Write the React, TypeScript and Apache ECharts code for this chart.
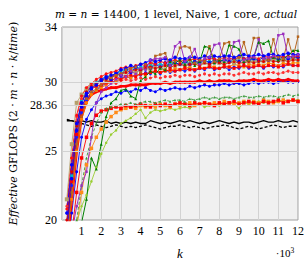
import React, { useEffect, useRef } from "react";
import * as echarts from "echarts";

const K = [0.25, 0.5, 0.75, 1, 1.25, 1.5, 1.75, 2, 2.25, 2.5, 2.75, 3, 3.25, 3.5, 3.75, 4, 4.25, 4.5, 4.75, 5, 5.25, 5.5, 5.75, 6, 6.25, 6.5, 6.75, 7, 7.25, 7.5, 7.75, 8, 8.25, 8.5, 8.75, 9, 9.25, 9.5, 9.75, 10, 10.25, 10.5, 10.75, 11, 11.25, 11.5, 11.75, 12];

const X_TICKS = [1, 2, 3, 4, 5, 6, 7, 8, 9, 10, 11, 12];
const Y_TICKS = [20, 25, 28.36, 30, 34];
const Y_GRID = [25, 28.36, 30];

const purple = [17.0, 19.0, 21.0, 22.5, 23.5, 26.0, 28.5, 29.3, 29.6, 29.9, 30.2, 30.5, 30.4, 30.8, 30.6, 31.0, 30.9, 31.6, 31.7, 31.7, 31.8, 31.2, 32.6, 32.9, 31.5, 31.8, 32.4, 31.3, 31.7, 31.8, 32.7, 32.8, 31.6, 31.7, 32.9, 33.0, 31.6, 31.7, 31.8, 33.1, 31.7, 31.8, 31.9, 33.4, 33.5, 31.8, 31.9, 32.0];
const brown = [18.0, 22.0, 25.5, 27.5, 28.8, 29.3, 29.5, 29.8, 30.0, 30.3, 30.5, 30.6, 30.9, 31.0, 31.1, 30.7, 31.3, 31.0, 31.9, 32.0, 32.1, 31.2, 31.5, 32.5, 32.6, 32.5, 31.4, 31.6, 31.5, 32.6, 31.5, 31.7, 32.8, 32.9, 31.6, 31.8, 32.9, 31.6, 33.2, 33.2, 31.7, 31.6, 33.1, 31.8, 31.7, 33.1, 31.8, 33.3];
const green = [14.0, 15.5, 17.5, 19.8, 21.5, 24.5, 23.7, 25.5, 27.5, 28.5, 28.8, 29.4, 29.5, 29.0, 28.8, 30.1, 30.4, 30.8, 30.6, 31.0, 30.9, 31.5, 31.4, 31.6, 31.3, 31.7, 31.2, 31.5, 32.6, 32.5, 31.4, 31.6, 31.5, 32.7, 32.6, 32.4, 31.5, 31.6, 31.8, 32.9, 32.8, 33.0, 31.8, 31.6, 31.7, 31.9, 32.3, 32.3];
const blue1 = [20.5, 24.0, 27.0, 28.5, 29.2, 29.6, 29.8, 30.1, 30.3, 30.5, 30.6, 30.9, 31.0, 31.2, 31.1, 31.3, 31.4, 31.6, 31.5, 31.6, 31.7, 31.6, 31.8, 31.7, 31.7, 31.8, 31.8, 31.7, 31.9, 31.8, 31.9, 31.8, 31.9, 31.9, 31.8, 31.9, 32.0, 31.9, 31.9, 32.0, 31.9, 32.0, 32.0, 31.9, 32.0, 32.1, 32.0, 32.0];
const blue2 = [19.5, 23.0, 26.5, 28.2, 29.0, 29.5, 29.9, 30.2, 30.4, 30.2, 30.7, 30.5, 30.9, 30.7, 31.1, 30.9, 31.2, 31.0, 31.3, 31.1, 31.4, 31.2, 31.4, 31.3, 31.5, 31.3, 31.5, 31.4, 31.6, 31.4, 31.6, 31.5, 31.6, 31.5, 31.7, 31.5, 31.7, 31.6, 31.7, 31.6, 31.8, 31.6, 31.8, 31.7, 31.8, 31.7, 31.8, 31.8];
const blue3 = [19.0, 22.5, 26.0, 27.8, 28.7, 29.2, 29.4, 29.7, 29.9, 30.1, 30.0, 30.3, 30.4, 30.3, 30.6, 30.5, 30.7, 30.6, 30.8, 30.6, 30.9, 30.7, 30.8, 30.9, 30.8, 31.0, 30.8, 31.0, 30.9, 31.1, 30.9, 31.0, 31.1, 30.9, 31.1, 31.0, 31.2, 31.0, 31.1, 31.2, 31.0, 31.2, 31.1, 31.2, 31.1, 31.3, 31.2, 31.2];
const blueLow = [17.0, 20.5, 23.5, 26.0, 27.3, 28.0, 28.5, 28.8, 29.0, 29.1, 29.3, 29.2, 29.4, 29.3, 29.5, 29.4, 29.6, 29.4, 29.3, 29.5, 29.4, 29.5, 29.6, 29.5, 29.5, 29.7, 29.6, 29.7, 29.8, 29.7, 29.8, 29.8, 29.9, 29.8, 29.9, 29.9, 29.8, 29.9, 30.0, 29.9, 30.0, 30.0, 29.9, 30.0, 30.1, 30.0, 30.0, 30.05];
const thickRed = [18.0, 21.5, 25.0, 27.5, 28.6, 29.1, 29.3, 29.4, 29.5, 29.6, 29.6, 29.7, 29.7, 29.8, 29.8, 29.8, 29.8, 29.9, 29.9, 29.9, 30.0, 29.9, 30.0, 30.0, 30.0, 30.0, 30.0, 30.1, 30.0, 30.1, 30.0, 30.1, 30.1, 30.1, 30.0, 30.1, 30.1, 30.1, 30.2, 30.1, 30.1, 30.2, 30.1, 30.2, 30.1, 30.2, 30.1, 30.1];
const red1 = [20.0, 23.5, 26.8, 28.5, 29.3, 29.7, 29.9, 30.1, 30.2, 30.4, 30.5, 30.6, 30.7, 30.8, 30.9, 30.9, 31.0, 31.1, 31.0, 31.1, 31.2, 31.1, 31.2, 31.3, 31.2, 31.3, 31.3, 31.2, 31.4, 31.3, 31.4, 31.4, 31.3, 31.4, 31.5, 31.4, 31.4, 31.5, 31.4, 31.5, 31.5, 31.6, 31.5, 31.5, 31.6, 31.5, 31.6, 31.6];
const red2 = [19.5, 22.8, 26.2, 28.0, 29.0, 29.5, 29.7, 29.8, 30.0, 30.1, 30.3, 30.2, 30.4, 30.5, 30.4, 30.6, 30.6, 30.7, 30.8, 30.7, 30.8, 30.9, 30.8, 30.9, 31.0, 30.9, 30.9, 31.0, 31.0, 31.1, 31.0, 31.0, 31.1, 31.1, 31.0, 31.1, 31.2, 31.1, 31.1, 31.2, 31.1, 31.2, 31.2, 31.1, 31.2, 31.3, 31.2, 31.2];
const red3 = [21.0, 24.5, 27.5, 28.8, 29.4, 29.6, 29.7, 29.8, 29.9, 30.0, 29.9, 30.1, 30.2, 30.1, 30.2, 30.3, 30.2, 30.3, 30.4, 30.3, 30.4, 30.4, 30.5, 30.4, 30.5, 30.5, 30.4, 30.5, 30.6, 30.5, 30.6, 30.5, 30.6, 30.6, 30.5, 30.6, 30.7, 30.6, 30.6, 30.7, 30.6, 30.7, 30.7, 30.6, 30.7, 30.8, 30.7, 30.7];
const red4 = [20.8, 24.5, 27.6, 29.0, 29.6, 29.9, 30.2, 30.4, 30.6, 30.7, 30.8, 31.0, 31.1, 31.0, 31.2, 31.3, 31.2, 31.4, 31.3, 31.5, 31.4, 31.5, 31.6, 31.5, 31.6, 31.6, 31.7, 31.6, 31.6, 31.7, 31.7, 31.6, 31.8, 31.7, 31.7, 31.8, 31.7, 31.8, 31.8, 31.7, 31.9, 31.8, 31.8, 31.9, 31.8, 31.9, 31.8, 31.9];
const orange1 = [18.5, 21.5, 25.0, 27.3, 28.5, 29.1, 29.4, 29.6, 29.8, 30.0, 30.1, 30.2, 30.4, 30.3, 30.5, 30.6, 30.5, 30.7, 30.8, 30.7, 30.9, 30.8, 31.0, 30.9, 31.0, 31.1, 30.9, 31.1, 31.0, 31.2, 31.1, 31.0, 31.2, 31.1, 31.3, 31.2, 31.1, 31.3, 31.2, 31.3, 31.2, 31.4, 31.3, 31.2, 31.4, 31.3, 31.4, 31.4];
const cyan = [19.8, 23.2, 26.8, 28.6, 29.4, 29.8, 30.0, 30.2, 30.4, 30.5, 30.6, 30.8, 30.9, 30.9, 31.0, 31.1, 31.1, 31.2, 31.2, 31.3, 31.2, 31.3, 31.4, 31.3, 31.4, 31.4, 31.5, 31.4, 31.5, 31.5, 31.4, 31.5, 31.6, 31.5, 31.5, 31.6, 31.5, 31.6, 31.6, 31.5, 31.6, 31.7, 31.6, 31.6, 31.7, 31.6, 31.7, 31.6];
const tan = [21.5, 25.5, 28.5, 29.1, 29.5, 29.8, 29.9, 30.1, 30.2, 30.4, 30.5, 30.5, 30.7, 30.8, 30.7, 30.9, 31.0, 30.9, 31.1, 31.0, 31.2, 31.1, 31.2, 31.3, 31.2, 31.3, 31.4, 31.3, 31.4, 31.3, 31.5, 31.4, 31.4, 31.5, 31.4, 31.5, 31.6, 31.5, 31.5, 31.6, 31.5, 31.6, 31.6, 31.7, 31.6, 31.6, 31.7, 31.7];
const greenDashed = [15.0, 17.5, 20.0, 22.5, 24.5, 26.0, 27.0, 27.8, 28.1, 28.2, 28.3, 28.4, 28.4, 28.5, 28.4, 28.5, 28.6, 28.6, 28.5, 28.6, 28.7, 28.6, 28.7, 28.7, 28.6, 28.8, 28.7, 28.8, 28.9, 28.8, 28.9, 28.8, 28.9, 28.9, 28.8, 28.9, 29.0, 28.9, 28.9, 29.0, 28.9, 29.0, 29.0, 28.9, 29.0, 29.1, 29.0, 29.1];
const redLow = [16.0, 19.0, 22.0, 24.5, 26.0, 27.0, 27.6, 27.9, 28.0, 28.1, 28.2, 28.1, 28.3, 28.2, 28.3, 28.4, 28.3, 28.2, 28.4, 28.3, 28.4, 28.3, 28.4, 28.5, 28.4, 28.3, 28.5, 28.4, 28.5, 28.4, 28.3, 28.5, 28.4, 28.5, 28.6, 28.4, 28.5, 28.6, 28.5, 28.4, 28.6, 28.5, 28.6, 28.7, 28.5, 28.6, 28.7, 28.6];
const orangeLow = [15.0, 17.0, 19.5, 22.0, 24.0, 25.2, 26.0, 26.6, 27.1, 27.5, 27.8, 28.0, 28.1, 28.2, 28.1, 28.3, 28.2, 28.3, 28.2, 28.4, 28.3, 28.2, 28.4, 28.3, 28.4, 28.5, 28.3, 28.4, 28.5, 28.4, 28.5, 28.4, 28.6, 28.5, 28.4, 28.5, 28.6, 28.5, 28.6, 28.5, 28.7, 28.6, 28.5, 28.6, 28.7, 28.6, 28.7, 28.6];
const yellowGreen = [15.0, 17.5, 19.8, 21.0, 21.8, 22.8, 23.8, 24.8, 25.6, 26.2, 26.5, 27.0, 27.2, 27.4, 27.7, 28.0, 27.4, 27.8, 28.0, 27.9, 28.0, 28.1, 28.0, 28.1, 28.2, 28.1, 28.3, 28.4, 28.2, 28.3, 28.4, 28.3, 28.4, 28.5, 28.4, 28.1, 28.5, 28.4, 28.5, 28.6, 28.5, 28.6, 28.5, 28.6, 28.7, 28.6, 28.7, 28.7];
const blackSolid = [27.2, 27.2, 27.1, 27.2, 27.1, 27.2, 27.1, 27.1, 27.2, 27.0, 27.1, 27.0, 27.1, 27.0, 27.1, 27.0, 27.0, 27.2, 27.1, 27.0, 27.1, 27.0, 27.1, 27.2, 27.1, 27.2, 27.1, 27.0, 27.1, 27.0, 27.1, 27.2, 27.1, 27.0, 27.1, 27.0, 27.1, 27.1, 27.0, 27.1, 27.2, 27.1, 27.1, 27.2, 27.1, 27.1, 27.2, 27.1];
const blackDashed = [27.3, 27.2, 27.1, 27.0, 26.9, 26.8, 26.9, 26.8, 26.7, 26.8, 26.9, 26.8, 26.7, 26.8, 26.7, 26.8, 26.9, 26.8, 26.7, 26.6, 26.7, 26.8, 26.8, 26.9, 26.8, 26.7, 26.8, 26.7, 26.6, 26.7, 26.8, 26.8, 26.9, 26.8, 26.7, 26.6, 26.7, 26.8, 26.7, 26.6, 26.7, 26.8, 26.9, 26.8, 26.7, 26.8, 26.8, 26.8];

const SERIF = "'Liberation Serif', 'DejaVu Serif', serif";
const WIDE = "'DejaVu Serif', 'Liberation Serif', serif";

function line(values: number[], color: string, opt: any = {}) {
  return {
    type: "line",
    data: K.map((k, i) => [k, values[i]]),
    symbol: opt.symbol ?? "circle",
    symbolSize: opt.size ?? 3,
    showSymbol: opt.symbol !== "none",
    itemStyle: { color },
    lineStyle: { color, width: opt.width ?? 0.9, type: opt.dash ? [3, 2] : "solid" },
    clip: true,
    silent: true,
    z: opt.z ?? 2,
  };
}

export default function App() {
  const ref = useRef<HTMLDivElement>(null);
  useEffect(() => {
    if (!ref.current) return;
    const chart = echarts.init(ref.current, null, { renderer: "svg" });
    const series: any[] = [
      {
        type: "line",
        data: [],
        silent: true,
        markLine: {
          silent: true,
          symbol: "none",
          label: { show: false },
          lineStyle: { color: "#d2d2d2", width: 1, type: "solid" },
          data: Y_GRID.map((v) => ({ yAxis: v })),
        },
        z: 1,
      },
      line(blackSolid, "#000000", { symbol: "none", width: 1.3 }),
      line(blackDashed, "#000000", { symbol: "none", width: 1.3, dash: true }),
      line(yellowGreen, "#9acd32", { size: 2.5 }),
      line(orangeLow, "#ff8c1a", { symbol: "rect", size: 3.5 }),
      line(redLow, "#ff0000", { symbol: "rect", size: 3.5 }),
      line(greenDashed, "#3a9a3a", { symbol: "triangle", size: 2.5, dash: true }),
      line(blueLow, "#0000ff", { size: 3 }),
      line(thickRed, "#ff0000", { width: 2.6, size: 3 }),
      line(blue3, "#1a1aff", { size: 3 }),
      line(orange1, "#ff8000", { symbol: "rect", size: 3 }),
      line(red3, "#ff3030", { size: 3, dash: true }),
      line(cyan, "#00b5c8", { symbol: "rect", size: 3 }),
      line(tan, "#b5a06a", { symbol: "rect", size: 4 }),
      line(red2, "#ff0000", { symbol: "rect", size: 3 }),
      line(blue2, "#0000ff", { size: 3.5 }),
      line(red1, "#e00000", { size: 3 }),
      line(red4, "#ff1010", { size: 3 }),
      line(blue1, "#0000ff", { size: 3.5 }),
      line(green, "#008000", { symbol: "triangle", size: 3, width: 1 }),
      line(brown, "#b5651d", { symbol: "rect", size: 2.5, width: 1 }),
      line(purple, "#9b30c0", { symbol: "rect", size: 2.5, width: 1 }),
    ];
    chart.setOption({
      animation: false,
      grid: {
        left: 54,
        top: 27,
        right: 9,
        bottom: 36,
        show: true,
        backgroundColor: "#f0f0f0",
        borderColor: "#a0a0a0",
        borderWidth: 1,
        containLabel: false,
      },
      xAxis: {
        type: "value",
        min: 0,
        max: 12,
        interval: 1,
        axisLine: { show: false },
        axisTick: { show: false },
        axisLabel: {
          color: "#000",
          fontFamily: SERIF,
          fontSize: 12,
          margin: 5,
          customValues: X_TICKS,
          formatter: (v: number) => String(v),
        },
        splitLine: { show: true, lineStyle: { color: "#d2d2d2", width: 1 } },
        name: "k",
        nameLocation: "middle",
        nameGap: 27,
        nameTextStyle: { fontFamily: SERIF, fontSize: 13, fontStyle: "italic", color: "#000" },
      },
      yAxis: {
        type: "value",
        min: 20,
        max: 34,
        axisLine: { show: false },
        axisTick: { show: false },
        splitLine: { show: false },
        axisLabel: {
          color: "#000",
          fontFamily: SERIF,
          fontSize: 12,
          margin: 5,
          customValues: Y_TICKS,
          formatter: (v: number) => String(v),
        },
        name: "{i|Effective} {r|GFLOPS (2 · }{i|m}{r| · }{i|n}{r| · }{i|k}{r|/}{i|time}{r|)}",
        nameLocation: "middle",
        nameGap: 40,
        nameTextStyle: {
          fontFamily: WIDE,
          fontSize: 11,
          color: "#000",
          rich: {
            i: { fontStyle: "italic", fontFamily: WIDE, fontSize: 11, color: "#000" },
            r: { fontFamily: WIDE, fontSize: 11, color: "#000" },
          },
        },
      },
      graphic: [
        {
          type: "text",
          x: 176,
          y: 14,
          silent: true,
          style: {
            text: "{i|m}{r| = }{i|n}{r| = 14400, 1 level, Naive, 1 core, }{i|actual}",
            align: "center",
            verticalAlign: "middle",
            font: `10.6px ${WIDE}`,
            fill: "#000",
            rich: {
              i: { fontStyle: "italic", fontFamily: WIDE, fontSize: 10.6, fill: "#000" },
              r: { fontFamily: WIDE, fontSize: 10.6, fill: "#000" },
            },
          },
        },
        {
          type: "text",
          x: 285,
          y: 253,
          silent: true,
          style: {
            text: "·10{s|3}",
            align: "center",
            verticalAlign: "middle",
            font: `11px ${SERIF}`,
            fill: "#000",
            rich: { s: { fontFamily: SERIF, fontSize: 7.5, verticalAlign: "top", padding: [0, 0, 6, 0], fill: "#000" } },
          },
        },
      ],
      series,
    });
    return () => chart.dispose();
  }, []);
  return <div ref={ref} style={{ position: "absolute", left: 0, top: 0, width: 307, height: 265 }} />;
}
